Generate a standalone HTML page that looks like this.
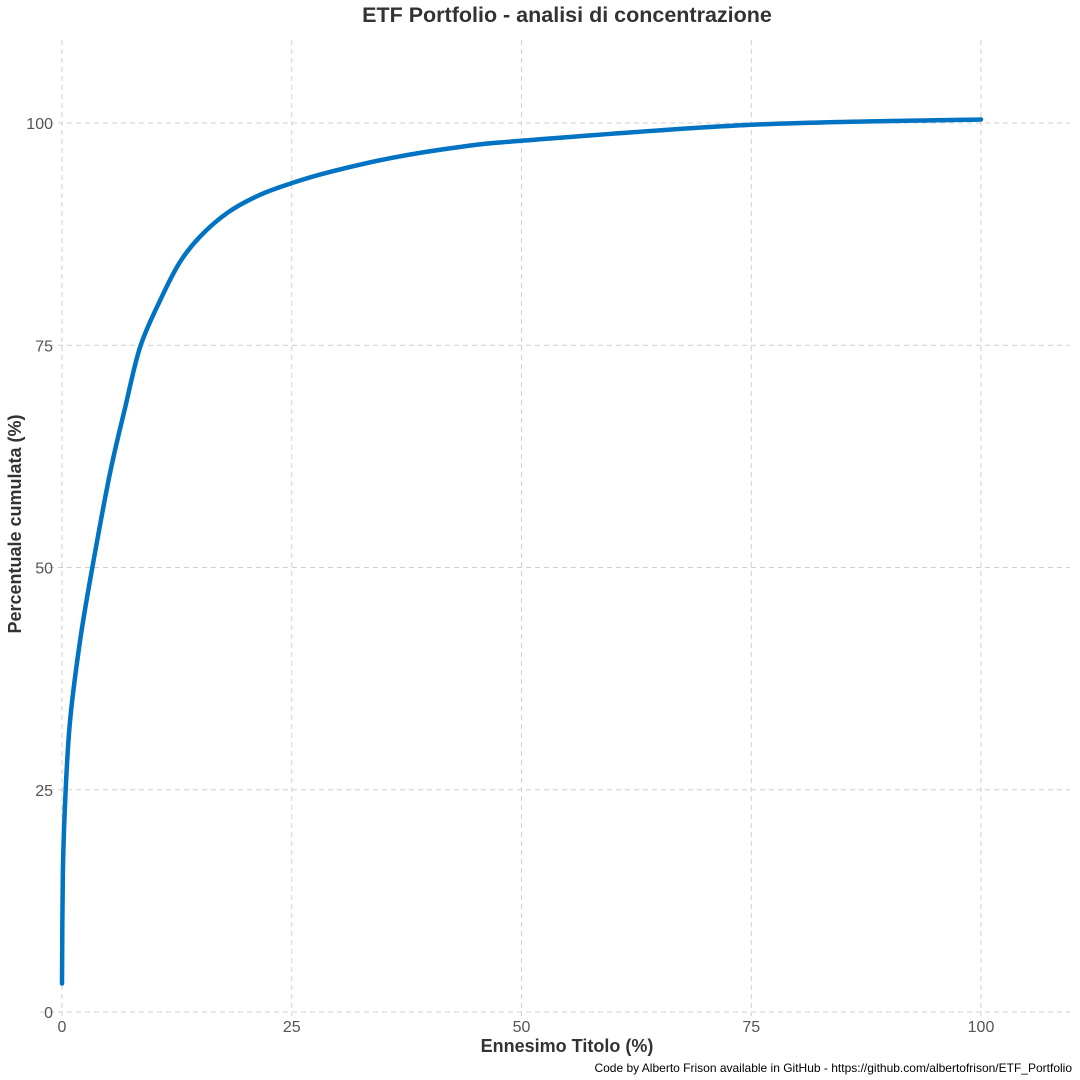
<!DOCTYPE html>
<html><head><meta charset="utf-8">
<style>
html,body{margin:0;padding:0;background:#fff;}
svg{display:block;font-family:"Liberation Sans",sans-serif;}
</style></head>
<body>
<svg id="chart" width="1080" height="1080" viewBox="0 0 1080 1080">
<text x="567" y="22" text-anchor="middle" font-size="21.5" font-weight="bold" fill="#333">ETF Portfolio - analisi di concentrazione</text>
<g id="grid"></g>
<g id="yticks"></g>
<g id="xticks"></g>
<path id="curve" fill="none" stroke="#0073C2" stroke-width="4.5" stroke-linecap="round" stroke-linejoin="round"/>
<text x="567" y="1052" text-anchor="middle" font-size="18" font-weight="bold" fill="#333">Ennesimo Titolo (%)</text>
<text transform="translate(21,524) rotate(-90)" text-anchor="middle" font-size="18" font-weight="bold" fill="#333">Percentuale cumulata (%)</text>
<text x="1072" y="1072" text-anchor="end" font-size="12" fill="#000">Code by Alberto Frison available in GitHub - https://github.com/albertofrison/ETF_Portfolio</text>
</svg>
<script>
const xTicks = [0, 25, 50, 75, 100];
const yTicks = [0, 25, 50, 75, 100];
const xValues = [0, 0.1, 0.4, 0.9, 2, 3.3, 5.2, 6.85, 8.5, 10.7, 12.8, 15.0, 18.0, 21.5, 24.9, 28.8, 36.0, 43.3, 50, 75, 100];
const yValues = [3.2, 16, 25, 33, 42, 50, 60.5, 67.9, 74.8, 80.1, 84.3, 87.2, 89.9, 91.9, 93.2, 94.4, 96.1, 97.3, 98, 99.8, 100.4];

const NS = "http://www.w3.org/2000/svg";
const sx = v => 62 + v * 9.19;
const sy = v => 1012 - v * 8.89;

const grid = document.getElementById('grid');
const yt = document.getElementById('yticks');
const xt = document.getElementById('xticks');
yTicks.forEach(t => {
  const l = document.createElementNS(NS, 'line');
  
  
  l.setAttribute('x1', 40); l.setAttribute('x2', 1070);
  l.setAttribute('y1', sy(t)); l.setAttribute('y2', sy(t));
  l.setAttribute('stroke', '#cfcfcf'); l.setAttribute('stroke-dasharray', '5,4');
  grid.appendChild(l);
  const tx = document.createElementNS(NS, 'text');
  
  
  tx.setAttribute('x', 53); tx.setAttribute('y', sy(t) + 6);
  tx.setAttribute('text-anchor', 'end'); tx.setAttribute('font-size', '16'); tx.setAttribute('fill', '#555');
  tx.textContent = t;
  yt.appendChild(tx);
});
xTicks.forEach(t => {
  const l = document.createElementNS(NS, 'line');
  
  
  l.setAttribute('y1', 40); l.setAttribute('y2', 1016);
  l.setAttribute('x1', sx(t)); l.setAttribute('x2', sx(t));
  l.setAttribute('stroke', '#cfcfcf'); l.setAttribute('stroke-dasharray', '5,4');
  grid.appendChild(l);
  const tx = document.createElementNS(NS, 'text');
  
  
  tx.setAttribute('x', sx(t)); tx.setAttribute('y', 1032);
  tx.setAttribute('text-anchor', 'middle'); tx.setAttribute('font-size', '16'); tx.setAttribute('fill', '#555');
  tx.textContent = t;
  xt.appendChild(tx);
});
const pts = xValues.map((x, i) => [sx(x), sy(yValues[i])]);
let d = `M${pts[0][0]},${pts[0][1]}`;
for (let i = 0; i < pts.length - 1; i++) {
  const p0 = pts[Math.max(0, i - 1)], p1 = pts[i], p2 = pts[i + 1], p3 = pts[Math.min(pts.length - 1, i + 2)];
  const c1 = [p1[0] + (p2[0] - p0[0]) / 6, p1[1] + (p2[1] - p0[1]) / 6];
  const c2 = [p2[0] - (p3[0] - p1[0]) / 6, p2[1] - (p3[1] - p1[1]) / 6];
  d += ` C${c1[0]},${c1[1]} ${c2[0]},${c2[1]} ${p2[0]},${p2[1]}`;
}
document.getElementById('curve').setAttribute('d', d);
</script>
</body></html>
